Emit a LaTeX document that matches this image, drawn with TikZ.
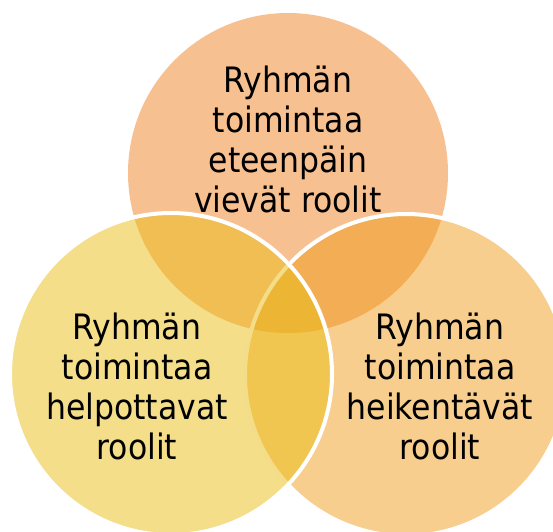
\documentclass[tikz,border=0pt]{standalone}
\usepackage{fontspec}
\setmainfont{DejaVu Sans Condensed}
\definecolor{ctop}{RGB}{239,129,33}
\definecolor{cleft}{RGB}{233,189,21}
\definecolor{cright}{RGB}{239,157,27}
\begin{document}
\begin{tikzpicture}[x=1pt,y=-1pt,
  venn/.style={circle, minimum size=#1, inner sep=0pt, fill opacity=0.5},
  ring/.style={draw=white, line width=4pt},
  lbl/.style={align=center, inner sep=0pt, font=\fontsize{35}{40}\selectfont, text=black}]
\useasboundingbox (0,0) rectangle (553,531);
\fill[ctop, fill opacity=0.5] (288,173) circle[radius=160];
\filldraw[cright, fill opacity=0.5, draw=white, line width=4pt] (406,375) circle[radius=161];
\filldraw[cleft, fill opacity=0.5, draw=white, line width=4pt] (171,374) circle[radius=161];
\node[lbl] (ttop) at (288,139) {Ryhmän\\toimintaa\\eteenpäin\\vievät roolit};
\node[lbl] (tleft) at (137,386) {Ryhmän\\toimintaa\\helpottavat\\roolit};
\node[lbl] (tright) at (440,386) {Ryhmän\\toimintaa\\heikentävät\\roolit};
\end{tikzpicture}
\end{document}
